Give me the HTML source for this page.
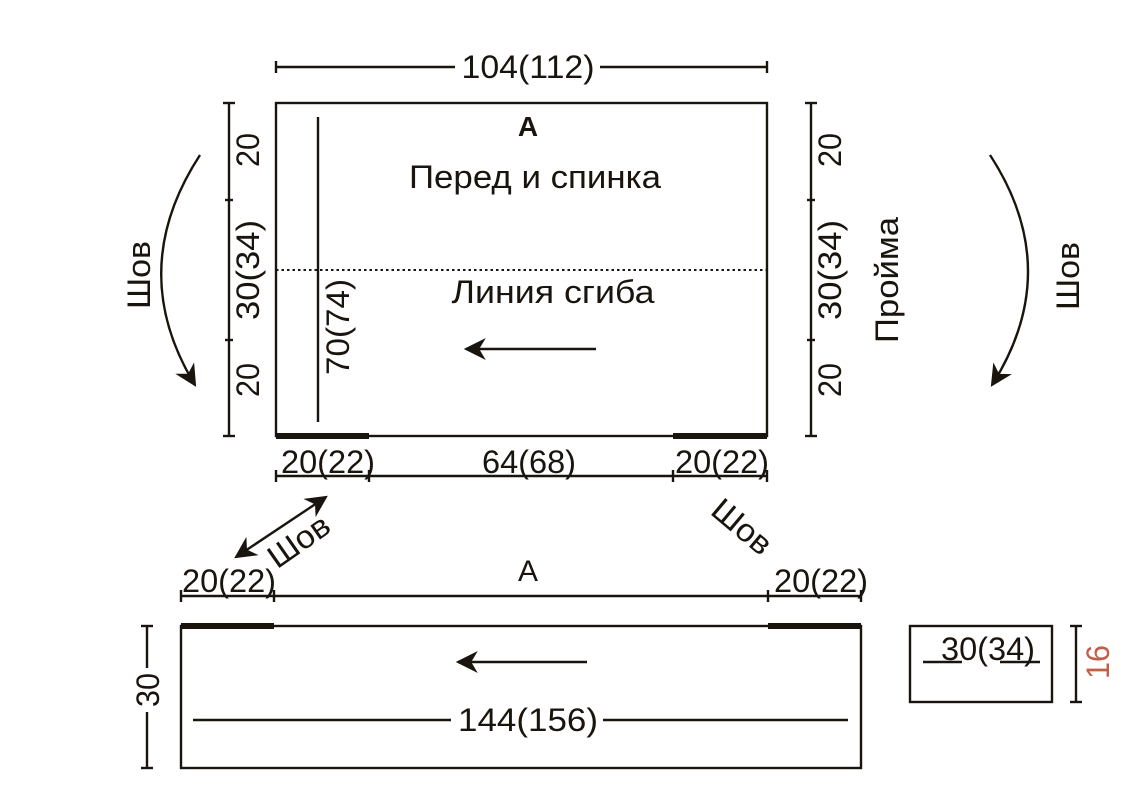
<!DOCTYPE html>
<html><head><meta charset="utf-8"><style>html,body{margin:0;padding:0;background:#fff}svg{display:block}</style></head>
<body>
<svg width="1144" height="801" viewBox="0 0 1144 801" xmlns="http://www.w3.org/2000/svg" font-family="Liberation Sans, sans-serif" fill="#1a140e">
<defs>
<marker id="ah2" viewBox="0 0 10 10" refX="9" refY="5" markerWidth="22" markerHeight="22" orient="auto-start-reverse" markerUnits="userSpaceOnUse"><path d="M0,0 L10,5 L0,10 L3,5 z" fill="#1a140e"/></marker>
</defs>
<g stroke="#1a140e" stroke-width="2.4" fill="none">
<line x1="276" y1="67" x2="455" y2="67"/><line x1="600" y1="67" x2="767" y2="67"/>
<line x1="276" y1="61" x2="276" y2="73"/><line x1="767" y1="61" x2="767" y2="73"/>
<rect x="276" y="103" width="491" height="333"/>
<line x1="276" y1="436" x2="369" y2="436" stroke-width="6"/>
<line x1="673" y1="436" x2="767" y2="436" stroke-width="6"/>
<line x1="276" y1="270" x2="767" y2="270" stroke-dasharray="2.5,3" stroke-width="2"/>
<line x1="318" y1="117" x2="318" y2="422"/>
<line x1="596" y1="349" x2="466" y2="349" marker-end="url(#ah2)"/>
<line x1="229" y1="103" x2="229" y2="436"/>
<line x1="223" y1="103" x2="235" y2="103"/><line x1="225" y1="200" x2="233" y2="200"/><line x1="225" y1="340" x2="233" y2="340"/><line x1="223" y1="436" x2="235" y2="436"/>
<line x1="811" y1="103" x2="811" y2="436"/>
<line x1="805" y1="103" x2="817" y2="103"/><line x1="807" y1="200" x2="815" y2="200"/><line x1="807" y1="340" x2="815" y2="340"/><line x1="805" y1="436" x2="817" y2="436"/>
<path d="M200,155 Q125,270 195,385" marker-end="url(#ah2)"/>
<path d="M990,155 Q1065,270 992,385" marker-end="url(#ah2)"/>
<line x1="276" y1="476" x2="767" y2="476"/>
<line x1="276" y1="470" x2="276" y2="482"/><line x1="369" y1="470" x2="369" y2="482"/><line x1="673" y1="470" x2="673" y2="482"/><line x1="767" y1="470" x2="767" y2="482"/>
<line x1="236" y1="557" x2="326" y2="497" marker-start="url(#ah2)" marker-end="url(#ah2)"/>
<line x1="181" y1="596" x2="861" y2="596"/>
<line x1="181" y1="590" x2="181" y2="602"/><line x1="274" y1="590" x2="274" y2="602"/><line x1="768" y1="590" x2="768" y2="602"/><line x1="861" y1="590" x2="861" y2="602"/>
<rect x="181" y="626" width="680" height="142"/>
<line x1="181" y1="626" x2="274" y2="626" stroke-width="6"/>
<line x1="768" y1="626" x2="861" y2="626" stroke-width="6"/>
<line x1="147" y1="626" x2="147" y2="668"/><line x1="147" y1="712" x2="147" y2="768"/>
<line x1="141" y1="626" x2="153" y2="626"/><line x1="141" y1="768" x2="153" y2="768"/>
<line x1="587" y1="662" x2="458" y2="662" marker-end="url(#ah2)"/>
<line x1="193" y1="720" x2="451" y2="720"/><line x1="603" y1="720" x2="848" y2="720"/>
<rect x="910" y="626" width="142" height="76"/>
<line x1="923" y1="662" x2="962" y2="662"/><line x1="1000" y1="662" x2="1040" y2="662"/>
<line x1="1076" y1="626" x2="1076" y2="702"/><line x1="1070" y1="626" x2="1082" y2="626"/><line x1="1070" y1="702" x2="1082" y2="702"/>
</g>
<g font-size="32" text-anchor="middle">
<text x="528" y="78" textLength="133" lengthAdjust="spacingAndGlyphs">104(112)</text>
<text x="528" y="136" font-weight="bold" font-size="28">A</text>
<text x="535" y="188" textLength="252" lengthAdjust="spacingAndGlyphs">Перед и спинка</text>
<text x="553" y="303" textLength="203" lengthAdjust="spacingAndGlyphs">Линия сгиба</text>
<text x="328" y="473" textLength="94" lengthAdjust="spacingAndGlyphs">20(22)</text>
<text x="529" y="473" textLength="94" lengthAdjust="spacingAndGlyphs">64(68)</text>
<text x="722" y="473" textLength="94" lengthAdjust="spacingAndGlyphs">20(22)</text>
<text transform="translate(259,150) rotate(-90)" textLength="34" lengthAdjust="spacingAndGlyphs">20</text>
<text transform="translate(259,270) rotate(-90)" textLength="100" lengthAdjust="spacingAndGlyphs">30(34)</text>
<text transform="translate(259,380) rotate(-90)" textLength="34" lengthAdjust="spacingAndGlyphs">20</text>
<text transform="translate(841,150) rotate(-90)" textLength="34" lengthAdjust="spacingAndGlyphs">20</text>
<text transform="translate(841,270) rotate(-90)" textLength="100" lengthAdjust="spacingAndGlyphs">30(34)</text>
<text transform="translate(841,380) rotate(-90)" textLength="34" lengthAdjust="spacingAndGlyphs">20</text>
<text transform="translate(349,327) rotate(-90)" textLength="96" lengthAdjust="spacingAndGlyphs">70(74)</text>
<text transform="translate(150,275) rotate(-90)" textLength="68" lengthAdjust="spacingAndGlyphs">Шов</text>
<text transform="translate(1079,276) rotate(-90)" textLength="68" lengthAdjust="spacingAndGlyphs">Шов</text>
<text transform="translate(898,280) rotate(-90)" textLength="126" lengthAdjust="spacingAndGlyphs">Пройма</text>
<text transform="translate(305,550) rotate(-35)" textLength="68" lengthAdjust="spacingAndGlyphs">Шов</text>
<text transform="translate(735,535) rotate(40)" textLength="68" lengthAdjust="spacingAndGlyphs">Шов</text>
<text x="229" y="592" textLength="94" lengthAdjust="spacingAndGlyphs">20(22)</text>
<text x="528" y="581" font-size="30">A</text>
<text x="821" y="592" textLength="94" lengthAdjust="spacingAndGlyphs">20(22)</text>
<text transform="translate(159,690) rotate(-90)" textLength="34" lengthAdjust="spacingAndGlyphs">30</text>
<text x="528" y="731" textLength="140" lengthAdjust="spacingAndGlyphs">144(156)</text>
<text x="988" y="660" textLength="94" lengthAdjust="spacingAndGlyphs">30(34)</text>
<text transform="translate(1109,662) rotate(-90)" fill="#c0604a" textLength="34" lengthAdjust="spacingAndGlyphs">16</text>
</g>
</svg>
</body></html>
